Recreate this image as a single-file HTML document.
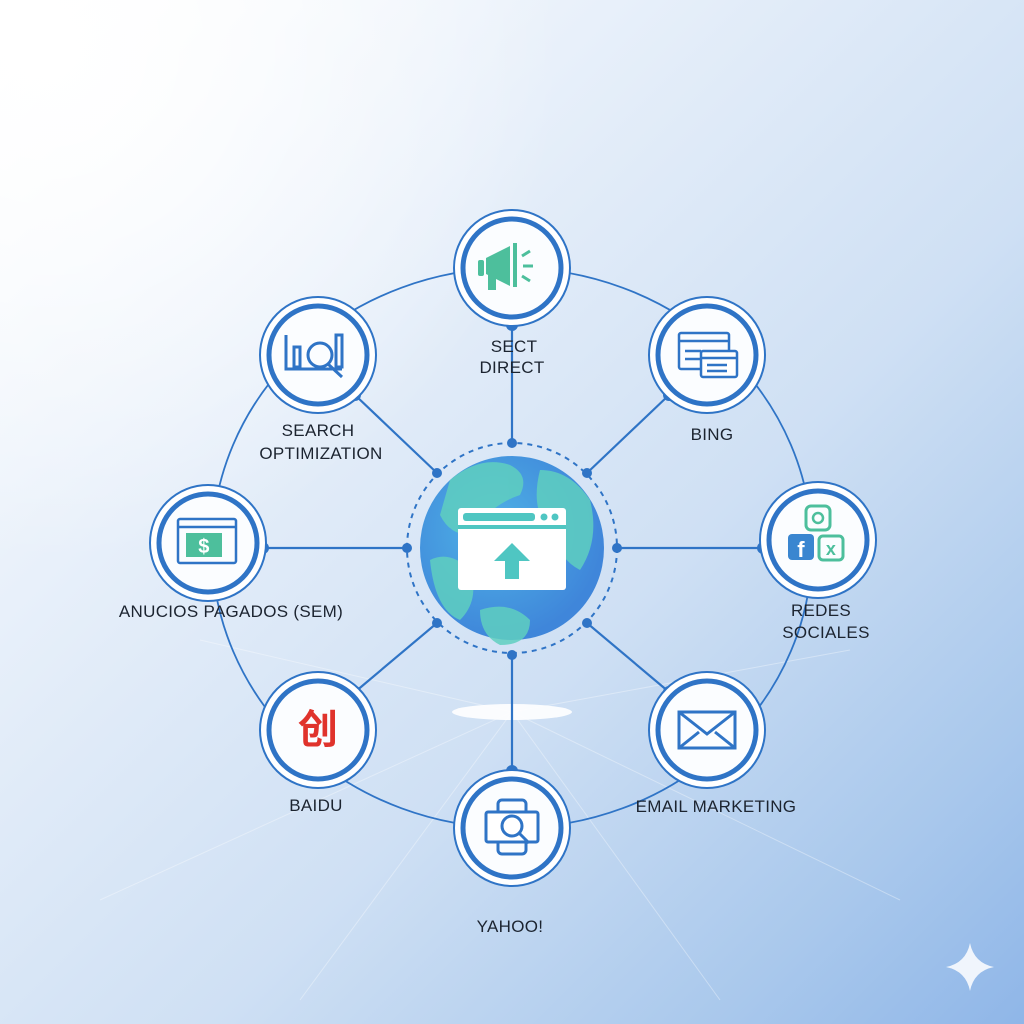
<!DOCTYPE html>
<html><head><meta charset="utf-8"><style>
html,body{margin:0;padding:0;width:1024px;height:1024px;overflow:hidden}
body{background:linear-gradient(135deg,#ffffff 0%,#e8f0fa 30%,#cfe0f4 60%,#a9c8ec 85%,#8fb6e8 100%)}
text{font-family:"Liberation Sans",sans-serif;font-size:17px;fill:#1c2430;text-anchor:middle;letter-spacing:0.3px}
</style></head><body>
<svg width="1024" height="1024" viewBox="0 0 1024 1024" xmlns="http://www.w3.org/2000/svg">
<defs>
<radialGradient id="glow" cx="0.05" cy="0.05" r="0.5"><stop offset="0" stop-color="#fff" stop-opacity="1"/><stop offset="1" stop-color="#fff" stop-opacity="0"/></radialGradient>
<radialGradient id="globe" cx="0.4" cy="0.4" r="0.6"><stop offset="0" stop-color="#4fb3e6"/><stop offset="1" stop-color="#3f86da"/></radialGradient>
</defs>
<rect width="1024" height="1024" fill="url(#glow)"/>
<ellipse cx="512" cy="712" rx="60" ry="8" fill="#fff" opacity="0.9"/>
<g stroke="#fff" stroke-opacity="0.35" stroke-width="1">
<line x1="512" y1="712" x2="100" y2="900"/><line x1="512" y1="712" x2="900" y2="900"/><line x1="512" y1="712" x2="200" y2="640"/><line x1="512" y1="712" x2="850" y2="650"/><line x1="512" y1="712" x2="300" y2="1000"/><line x1="512" y1="712" x2="720" y2="1000"/>
</g>
<ellipse cx="512" cy="548" rx="300" ry="280" fill="none" stroke="#2f74c6" stroke-width="1.8"/>
<g stroke="#2f74c6" stroke-width="2.2">
<line x1="512" y1="325" x2="512" y2="443"/>
<line x1="512" y1="653" x2="512" y2="771"/>
<line x1="265" y1="548" x2="407" y2="548"/>
<line x1="617" y1="548" x2="761" y2="548"/>
<line x1="355" y1="395" x2="437" y2="473"/>
<line x1="669" y1="395" x2="587" y2="473"/>
<line x1="355" y1="692" x2="437" y2="623"/>
<line x1="669" y1="692" x2="587" y2="623"/>
</g>
<circle cx="512" cy="548" r="105" fill="none" stroke="#2f74c6" stroke-width="2" stroke-dasharray="5 5"/>
<circle cx="512" cy="548" r="92" fill="url(#globe)"/>
<g fill="#5fcfc0" opacity="0.85">
<path d="M450 480 q30 -25 60 -15 q20 10 10 30 q-30 10 -50 40 q-20 0 -30 -20 z"/>
<path d="M540 470 q30 0 50 30 q10 40 -10 70 q-20 -10 -30 -40 q-20 -20 -10 -60z"/>
<path d="M430 560 q20 -10 40 10 q10 30 -10 50 q-25 -10 -30 -60z"/>
<path d="M480 610 q30 -10 50 10 q0 25 -30 25 q-20 -10 -20 -35z"/>
</g>
<rect x="458" y="508" width="108" height="82" rx="3" fill="#fff"/>
<rect x="458" y="525" width="108" height="4" fill="#4fc6c2"/>
<rect x="463" y="513" width="72" height="8" rx="3" fill="#4fc6c2"/>
<circle cx="544" cy="517" r="3.5" fill="#4fc6c2"/><circle cx="555" cy="517" r="3.5" fill="#4fc6c2"/>
<path d="M512 543 l18 18 h-11 v18 h-14 v-18 h-11z" fill="#4fc6c2"/>
<g fill="#2f74c6">
<circle cx="512" cy="443" r="5"/><circle cx="512" cy="655" r="5"/><circle cx="407" cy="548" r="5"/><circle cx="617" cy="548" r="5"/>
<circle cx="437" cy="473" r="5"/><circle cx="587" cy="473" r="5"/><circle cx="437" cy="623" r="5"/><circle cx="587" cy="623" r="5"/>
<circle cx="512" cy="325" r="6"/><circle cx="512" cy="771" r="6"/><circle cx="263" cy="548" r="6"/><circle cx="763" cy="548" r="6"/>
<circle cx="355" cy="395" r="6"/><circle cx="669" cy="395" r="6"/><circle cx="355" cy="692" r="6"/><circle cx="669" cy="692" r="6"/>
</g>
<g id="nodes">
<g transform="translate(512,268)"><circle r="58" fill="#fff" stroke="#2f74c6" stroke-width="2"/><circle r="49" fill="#fbfdff" stroke="#2f74c6" stroke-width="5"/></g>
<g transform="translate(707,355)"><circle r="58" fill="#fff" stroke="#2f74c6" stroke-width="2"/><circle r="49" fill="#fbfdff" stroke="#2f74c6" stroke-width="5"/></g>
<g transform="translate(818,540)"><circle r="58" fill="#fff" stroke="#2f74c6" stroke-width="2"/><circle r="49" fill="#fbfdff" stroke="#2f74c6" stroke-width="5"/></g>
<g transform="translate(707,730)"><circle r="58" fill="#fff" stroke="#2f74c6" stroke-width="2"/><circle r="49" fill="#fbfdff" stroke="#2f74c6" stroke-width="5"/></g>
<g transform="translate(512,828)"><circle r="58" fill="#fff" stroke="#2f74c6" stroke-width="2"/><circle r="49" fill="#fbfdff" stroke="#2f74c6" stroke-width="5"/></g>
<g transform="translate(318,730)"><circle r="58" fill="#fff" stroke="#2f74c6" stroke-width="2"/><circle r="49" fill="#fbfdff" stroke="#2f74c6" stroke-width="5"/></g>
<g transform="translate(208,543)"><circle r="58" fill="#fff" stroke="#2f74c6" stroke-width="2"/><circle r="49" fill="#fbfdff" stroke="#2f74c6" stroke-width="5"/></g>
<g transform="translate(318,355)"><circle r="58" fill="#fff" stroke="#2f74c6" stroke-width="2"/><circle r="49" fill="#fbfdff" stroke="#2f74c6" stroke-width="5"/></g>
</g>
<!-- icons -->
<g transform="translate(512,268)" fill="#4dbf9c">
<rect x="-34" y="-8" width="6" height="16" rx="2"/><path d="M-26 -10 l24 -12 v40 l-24 -12z"/><rect x="-24" y="6" width="8" height="16"/><rect x="1" y="-25" width="4" height="44"/>
<path d="M10 -12 l8 -5 M11 -2 h10 M10 8 l8 5" stroke="#4dbf9c" stroke-width="3"/>
</g>
<g transform="translate(318,355)" fill="none" stroke="#2f74c6" stroke-width="3">
<path d="M-32 -20 v34 h56"/><rect x="-24" y="-8" width="6" height="20"/><rect x="18" y="-20" width="6" height="32"/><circle cx="2" cy="0" r="12" stroke="#2f74c6"/><path d="M10 9 l14 13"/>
</g>
<g transform="translate(707,355)" fill="none" stroke="#2f74c6" stroke-width="2.5">
<rect x="-28" y="-22" width="50" height="36" rx="2"/><path d="M-28 -14 h50 M-22 -4 h16 M-22 4 h16"/><rect x="-6" y="-4" width="36" height="26" rx="2" fill="#fff"/><path d="M-6 3 h36 M0 10 h20 M0 16 h20"/>
</g>
<g transform="translate(818,540)">
<rect x="-12" y="-34" width="24" height="24" rx="5" fill="none" stroke="#4dbf9c" stroke-width="3"/><circle cx="0" cy="-22" r="5" fill="none" stroke="#4dbf9c" stroke-width="2.5"/>
<rect x="-30" y="-6" width="26" height="26" rx="4" fill="#3a86d0"/><text x="-17" y="17" style="fill:#fff;font-size:22px;font-weight:bold">f</text>
<rect x="1" y="-4" width="24" height="24" rx="4" fill="none" stroke="#4dbf9c" stroke-width="3"/><text x="13" y="15" style="fill:#4dbf9c;font-size:18px;font-weight:bold">x</text>
</g>
<g transform="translate(208,543)" fill="none" stroke="#2f74c6" stroke-width="2.5">
<rect x="-30" y="-24" width="58" height="44" rx="2"/><path d="M-30 -16 h58"/><rect x="-22" y="-10" width="36" height="24" fill="#4dbf9c" stroke="none"/>
<text x="-4" y="10" style="fill:#fff;stroke:none;font-size:20px;font-weight:bold">$</text>
</g>
<text x="318" y="743" style="fill:#e0332c;font-size:40px;font-family:'Noto Sans CJK SC',sans-serif;font-weight:bold">创</text>
<g transform="translate(707,730)" fill="none" stroke="#2f74c6" stroke-width="3">
<rect x="-28" y="-18" width="56" height="36"/><path d="M-28 -18 l28 22 l28 -22 M-28 18 l20 -16 M28 18 l-20 -16"/>
</g>
<g transform="translate(512,828)" fill="none" stroke="#2f74c6" stroke-width="3">
<rect x="-14" y="-28" width="28" height="54" rx="4"/><rect x="-26" y="-16" width="52" height="30" rx="2" fill="#fff"/><circle cx="0" cy="-2" r="10"/><path d="M7 5 l10 10"/>
</g>
<!-- labels -->
<text x="514" y="352">SECT</text><text x="512" y="373">DIRECT</text>
<text x="318" y="436">SEARCH</text><text x="321" y="459">OPTIMIZATION</text>
<text x="712" y="440">BING</text>
<text x="231" y="617">ANUCIOS PAGADOS (SEM)</text>
<text x="821" y="616">REDES</text><text x="826" y="638">SOCIALES</text>
<text x="316" y="811">BAIDU</text>
<text x="716" y="812">EMAIL MARKETING</text>
<text x="510" y="932">YAHOO!</text>
<path d="M970 943 q4 20 24 24 q-20 4 -24 24 q-4 -20 -24 -24 q20 -4 24 -24z" fill="#fff" opacity="0.85"/>
</svg>
</body></html>
